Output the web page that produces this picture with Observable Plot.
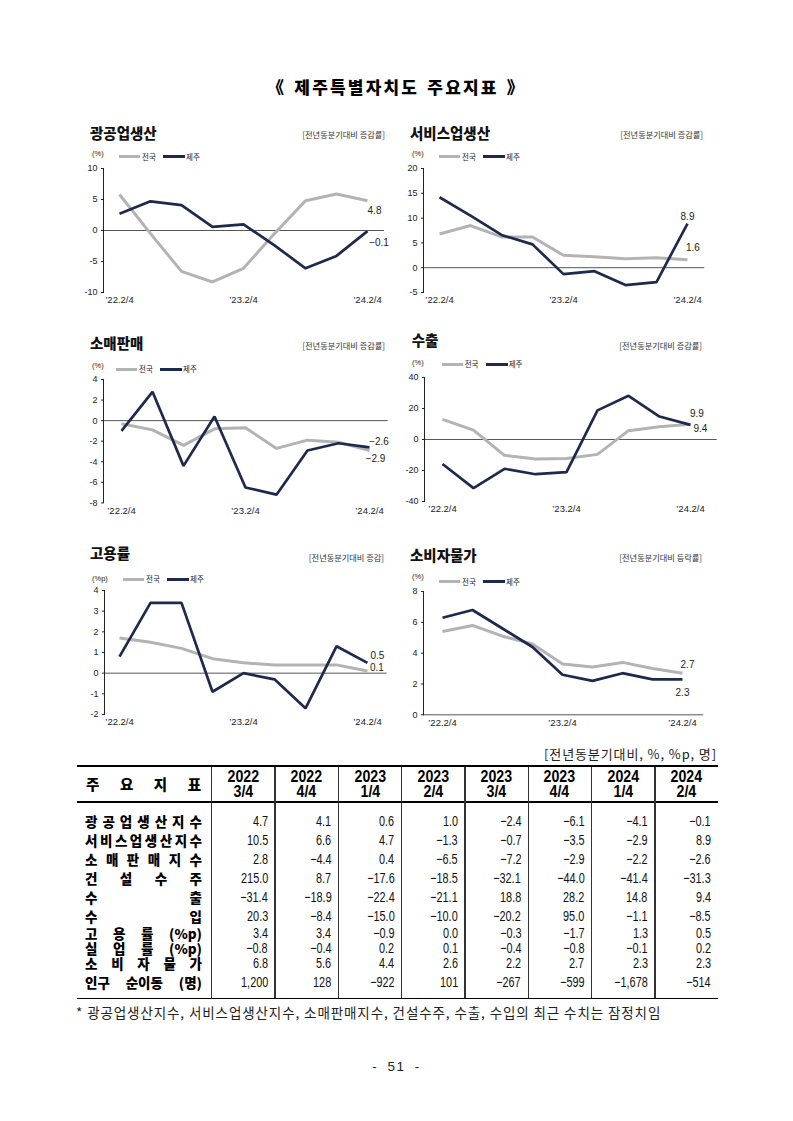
<!DOCTYPE html>
<html><head><meta charset="utf-8">
<script src="https://cdn.jsdelivr.net/npm/d3@7"></script>
<script src="https://cdn.jsdelivr.net/npm/@observablehq/plot@0.6"></script>
<style>
body{margin:0;background:#fff;}
#page{position:relative;width:793px;height:1121px;overflow:hidden;font-family:"Liberation Sans","Noto Sans CJK KR",sans-serif;color:#000;background:#fff;}
.abs{position:absolute;white-space:nowrap;line-height:1;}
.ctitle{font-family:"Noto Sans CJK KR";font-weight:900;font-size:14.5px;color:#111;}
.cnote{font-family:"Noto Sans CJK KR";font-size:8.2px;color:#333;}
.unit{font-size:7.5px;color:#222;}
.legtxt{font-family:"Noto Sans CJK KR";font-size:7.5px;color:#222;}
.sw{position:absolute;height:3px;}
.tbl-line{position:absolute;background:#000;}
.tight{display:block;height:12px;line-height:12px;overflow:visible;}
</style></head><body><div id="page"></div>
<script>
// ---------- chart data ----------
const quarters = ["’22.2/4","’22.3/4","’22.4/4","’23.1/4","’23.2/4","’23.3/4","’23.4/4","’24.1/4","’24.2/4"];
const xTickLabels = ["’22.2/4","’23.2/4","’24.2/4"];
const seriesNames = ["전국","제주"];
const seriesColors = ["#b3b3b3","#1d2a4d"];

const chartTitles = ["광공업생산","서비스업생산","소매판매","수출","고용률","소비자물가"];
const chartNotes = ["[전년동분기대비 증감률]","[전년동분기대비 증감률]","[전년동분기대비 증감률]","[전년동분기대비 증감률]","[전년동분기대비 증감]","[전년동분기대비 등락률]"];
const chartUnits = ["(%)","(%)","(%)","(%)","(%p)","(%)"];

const miningNational = [5.8, -0.5, -6.6, -8.3, -6.1, -0.5, 4.8, 5.9, 4.8];
const miningJeju     = [2.7, 4.7, 4.1, 0.6, 1.0, -2.4, -6.1, -4.1, -0.1];
const serviceNational = [6.8, 8.5, 6.2, 6.2, 2.5, 2.2, 1.8, 2.0, 1.6];
const serviceJeju     = [14.2, 10.5, 6.6, 4.7, -1.3, -0.7, -3.5, -2.9, 8.9];
const retailNational = [-0.3, -0.9, -2.4, -0.8, -0.7, -2.7, -1.9, -2.1, -2.9];
const retailJeju     = [-1.0, 2.8, -4.4, 0.4, -6.5, -7.2, -2.9, -2.2, -2.6];
const exportNational = [13.0, 6.0, -10.2, -12.6, -12.2, -9.6, 5.7, 8.2, 9.9];
const exportJeju     = [-15.8, -31.4, -18.9, -22.4, -21.1, 18.8, 28.2, 14.8, 9.4];
const employNational = [1.7, 1.5, 1.2, 0.7, 0.5, 0.4, 0.4, 0.4, 0.1];
const employJeju     = [0.8, 3.4, 3.4, -0.9, 0.0, -0.3, -1.7, 1.3, 0.5];
const cpiNational = [5.4, 5.8, 5.1, 4.6, 3.3, 3.1, 3.4, 3.0, 2.7];
const cpiJeju     = [6.3, 6.8, 5.6, 4.4, 2.6, 2.2, 2.7, 2.3, 2.3];

const yTicksMining = [-10, -5, 0, 5, 10];
const yTicksService = [-5, 0, 5, 10, 15, 20];
const yTicksRetail = [-8, -6, -4, -2, 0, 2, 4];
const yTicksExport = [-40, -20, 0, 20, 40];
const yTicksEmploy = [-2, -1, 0, 1, 2, 3, 4];
const yTicksCpi = [0, 2, 4, 6, 8];

// ---------- table data ----------
const pageTitle = "《 제주특별자치도 주요지표 》";
const tableUnitNote = "[전년동분기대비, %, %p, 명]";
const tableHeadLabel = "주 요 지 표";
const colYears = ["2022","2022","2023","2023","2023","2023","2024","2024"];
const colQuarters = ["3/4","4/4","1/4","2/4","3/4","4/4","1/4","2/4"];
const rowLabels = ["광공업생산지수","서비스업생산지수","소 매 판 매 지 수","건 설 수 주","수 출","수 입","고 용 률 (%p)","실 업 률 (%p)","소 비 자 물 가","인구 순이동 (명)"];
const rowMining   = [4.7, 4.1, 0.6, 1.0, -2.4, -6.1, -4.1, -0.1];
const rowService  = [10.5, 6.6, 4.7, -1.3, -0.7, -3.5, -2.9, 8.9];
const rowRetail   = [2.8, -4.4, 0.4, -6.5, -7.2, -2.9, -2.2, -2.6];
const rowConstr   = [215.0, 8.7, -17.6, -18.5, -32.1, -44.0, -41.4, -31.3];
const rowExport   = [-31.4, -18.9, -22.4, -21.1, 18.8, 28.2, 14.8, 9.4];
const rowImport   = [20.3, -8.4, -15.0, -10.0, -20.2, 95.0, -1.1, -8.5];
const rowEmploy   = [3.4, 3.4, -0.9, 0.0, -0.3, -1.7, 1.3, 0.5];
const rowUnemploy = [-0.8, -0.4, 0.2, 0.1, -0.4, -0.8, -0.1, 0.2];
const rowCpi      = [6.8, 5.6, 4.4, 2.6, 2.2, 2.7, 2.3, 2.3];
const rowMigration = [1200, 128, -922, 101, -267, -599, -1678, -514];
const footnote = "* 광공업생산지수, 서비스업생산지수, 소매판매지수, 건설수주, 수출, 수입의 최근 수치는 잠정치임";
const pageNumber = "- 51 -";

// ---------- layout ----------
const page = document.getElementById("page");
function addDiv(cls, text, css) {
  const el = document.createElement("div");
  el.className = "abs " + cls;
  if (text !== null) el.textContent = text;
  Object.assign(el.style, css);
  page.appendChild(el);
  return el;
}

const charts = [
  {i:0, nat:miningNational, jeju:miningJeju, domain:[-10,10], ticks:yTicksMining,
   x0:103, x1:384, p0:117.7, p8:368, yTop:168.3, yBot:292.3,
   titleX:90, titleY:132.5, noteR:385, noteY:134, unitX:92, unitY:154, legX:119, legY:156.7,
   natLab:{dx:7, dy:10}, jejuLab:{dx:11.5, dy:12}},
  {i:1, nat:serviceNational, jeju:serviceJeju, domain:[-5,20], ticks:yTicksService,
   x0:422.7, x1:704, p0:437.3, p8:688, yTop:168.3, yBot:292.3,
   titleX:410, titleY:133, noteR:703, noteY:133.5, unitX:412, unitY:154, legX:439, legY:156.7,
   natLab:{dx:5.5, dy:-12}, jejuLab:{dx:0, dy:-7}},
  {i:2, nat:retailNational, jeju:retailJeju, domain:[-8,4], ticks:yTicksRetail,
   x0:103.3, x1:388, p0:119, p8:372, yTop:379.3, yBot:502.7,
   titleX:90, titleY:343.3, noteR:385, noteY:345, unitX:92, unitY:366, legX:116, legY:369.3,
   natLab:{dx:6, dy:8}, jejuLab:{dx:9.5, dy:-5.5}},
  {i:3, nat:exportNational, jeju:exportJeju, domain:[-40,40], ticks:yTicksExport,
   x0:424, x1:716.7, p0:440, p8:691.7, yTop:376.7, yBot:500.7,
   titleX:411.7, titleY:340, noteR:702, noteY:345, unitX:412, unitY:363.3, legX:441.7, legY:364.3,
   natLab:{dx:6.5, dy:-10}, jejuLab:{dx:10, dy:4}},
  {i:4, nat:employNational, jeju:employJeju, domain:[-2,4], ticks:yTicksEmploy,
   x0:104, x1:386.7, p0:118.3, p8:368.3, yTop:590, yBot:714,
   titleX:90, titleY:553.3, noteR:384, noteY:556.7, unitX:92, unitY:579.3, legX:123, legY:579.3,
   natLab:{dx:9.5, dy:-3}, jejuLab:{dx:10, dy:-6.6}},
  {i:5, nat:cpiNational, jeju:cpiJeju, domain:[0,8], ticks:yTicksCpi,
   x0:422.7, x1:703, p0:438.3, p8:686, yTop:590.7, yBot:714,
   titleX:410, titleY:555, noteR:702, noteY:556.7, unitX:412, unitY:577.3, legX:439, legY:581.7,
   natLab:{dx:5, dy:-8}, jejuLab:{dx:0, dy:13}}
];

const fmtSigned = (v, digits) => (v < 0 ? "−" : "") + Math.abs(v).toFixed(digits);

function drawChart(c) {
  const ML = 30, MR = 30, MT = 10, MB = 20;
  const W = c.x1 - c.x0 + ML + MR;
  const H = c.yBot - c.yTop + MT + MB;
  const left = c.x0 - ML, top = c.yTop - MT;
  const natData = c.nat.map((v, k) => ({q: quarters[k], v}));
  const jejuData = c.jeju.map((v, k) => ({q: quarters[k], v}));
  const svg = Plot.plot({
    width: W, height: H, marginLeft: ML, marginRight: MR, marginTop: MT, marginBottom: MB,
    style: {overflow: "visible", background: "transparent", fontFamily: "Liberation Sans, Noto Sans CJK KR, sans-serif", color: "#222"},
    x: {type: "point", domain: quarters, range: [c.p0 - left, c.p8 - left], padding: 0, axis: null},
    y: {domain: c.domain, range: [H - MB, MT], axis: null},
    marks: [
      Plot.ruleY([0], {stroke: "#555", strokeWidth: 1}),
      Plot.frame({anchor: "left", stroke: "#222", strokeWidth: 1}),
      Plot.axisY({ticks: c.ticks, tickSize: 2, tickPadding: 4, fontSize: 9, tickFormat: d => String(d), stroke: "#222", label: null}),
      Plot.axisX({ticks: xTickLabels, tickSize: 0, tickPadding: 4, fontSize: 9.5, label: null}),
      Plot.lineY(natData, {x: "q", y: "v", stroke: seriesColors[0], strokeWidth: 3, strokeLinejoin: "miter", strokeLinecap: "butt"}),
      Plot.lineY(jejuData, {x: "q", y: "v", stroke: seriesColors[1], strokeWidth: 2.7, strokeLinejoin: "miter", strokeLinecap: "butt"}),
      Plot.text([natData[natData.length - 1]], {x: "q", y: "v", text: d => fmtSigned(d.v, 1), dx: c.natLab.dx, dy: c.natLab.dy, fontSize: 10, fill: "#222", lineAnchor: "middle"}),
      Plot.text([jejuData[jejuData.length - 1]], {x: "q", y: "v", text: d => fmtSigned(d.v, 1), dx: c.jejuLab.dx, dy: c.jejuLab.dy, fontSize: 10, fill: "#222", lineAnchor: "middle"})
    ]
  });
  const holder = addDiv("", null, {left: left + "px", top: top + "px", width: W + "px", height: H + "px"});
  holder.appendChild(svg);

  addDiv("ctitle", chartTitles[c.i], {left: c.titleX + "px", top: c.titleY + "px", transform: "translateY(-50%)"});
  addDiv("cnote", chartNotes[c.i], {right: (793 - c.noteR) + "px", top: c.noteY + "px", transform: "translateY(-50%)"});
  addDiv("unit", chartUnits[c.i], {left: c.unitX + "px", top: c.unitY + "px", transform: "translateY(-50%)"});
  addDiv("sw", null, {left: c.legX + "px", top: (c.legY - 1.5) + "px", width: "21px", background: seriesColors[0]});
  addDiv("legtxt", seriesNames[0], {left: (c.legX + 23) + "px", top: c.legY + "px", transform: "translateY(-50%)"});
  addDiv("sw", null, {left: (c.legX + 44) + "px", top: (c.legY - 1.5) + "px", width: "22px", background: seriesColors[1]});
  addDiv("legtxt", seriesNames[1], {left: (c.legX + 67) + "px", top: c.legY + "px", transform: "translateY(-50%)"});
}
charts.forEach(drawChart);

// ---------- page title ----------
addDiv("", pageTitle, {left: "0px", width: "793px", textAlign: "center", top: "86px", transform: "translateY(-50%)",
  fontFamily: "Noto Sans CJK KR", fontWeight: "900", fontSize: "17px", letterSpacing: "2.2px", wordSpacing: "2px"});

// ---------- table ----------
const T = {left: 77, top: 764.5, right: 718, headBottom: 801, bottom: 997.5, firstW: 134.7};
const colW = (T.right - T.left - T.firstW) / 8;
const colLeft = k => T.left + T.firstW + k * colW;
addDiv("", tableUnitNote, {right: (793 - 717) + "px", top: "753px", transform: "translateY(-50%)", fontFamily: "Noto Sans CJK KR", fontSize: "13px", letterSpacing: "0.9px", color: "#222"});
addDiv("tbl-line", null, {left: T.left + "px", top: T.top + "px", width: (T.right - T.left) + "px", height: "2px"});
addDiv("tbl-line", null, {left: T.left + "px", top: T.headBottom + "px", width: (T.right - T.left) + "px", height: "2px"});
addDiv("tbl-line", null, {left: T.left + "px", top: T.bottom + "px", width: (T.right - T.left) + "px", height: "1.5px"});
for (let k = 0; k < 8; k++) {
  addDiv("tbl-line", null, {left: (colLeft(k) - 0.5) + "px", top: (T.top + 2) + "px", width: "1.3px", height: (T.bottom - T.top - 2) + "px", background: "#333"});
}
function spreadLabel(text, x, w, yc, css) {
  const tokens = text.includes(" ") ? text.split(" ") : Array.from(text);
  const el = addDiv("", null, Object.assign({left: x + "px", width: w + "px", top: (yc - 6) + "px", height: "12px",
    display: "flex", justifyContent: "space-between", alignItems: "center", lineHeight: "12px"}, css));
  tokens.forEach(t => { const s = document.createElement("span"); s.className = "tight"; s.textContent = t; el.appendChild(s); });
}
const labelCss = {fontFamily: "Noto Sans CJK KR", fontWeight: "900", fontSize: "13.5px", color: "#000"};
spreadLabel(tableHeadLabel, T.left + 9, 115, 784, Object.assign({}, labelCss, {fontSize: "14.5px"}));
for (let k = 0; k < 8; k++) {
  const el = addDiv("", null, {left: colLeft(k) + "px", width: colW + "px", top: "784px", transform: "translateY(-50%)", textAlign: "center",
    fontFamily: "Liberation Sans", fontWeight: "bold", fontSize: "16.5px", lineHeight: "15px"});
  el.innerHTML = `<span style="display:inline-block;transform:scaleX(0.86)">${colYears[k]}<br>${colQuarters[k]}</span>`;
}
const tableRows = [rowMining, rowService, rowRetail, rowConstr, rowExport, rowImport, rowEmploy, rowUnemploy, rowCpi, rowMigration];
const bodyRowHeights = [19, 19, 19, 19, 19, 19, 15, 15, 15, 22];
let yRow = 811.5;
tableRows.forEach((vals, r) => {
  const h = bodyRowHeights[r];
  const yc = yRow + h / 2;
  spreadLabel(rowLabels[r], T.left + 8, 117, yc, labelCss);
  const isCount = r === tableRows.length - 1;
  vals.forEach((v, k) => {
    const txt = isCount ? (v < 0 ? "−" : "") + d3.format(",")(Math.abs(v)) : fmtSigned(v, 1);
    const el = addDiv("", null, {left: colLeft(k) + "px", width: (colW - 7) + "px", top: (yc - 6) + "px", height: "12px", lineHeight: "12px", textAlign: "right",
      fontFamily: "Liberation Sans", fontSize: "14.5px", color: "#111"});
    el.innerHTML = `<span style="display:inline-block;height:12px;line-height:12px;transform:scaleX(0.75);transform-origin:100% 50%">${txt}</span>`;
  });
  yRow += h;
});

// ---------- footnote & page number ----------
addDiv("", footnote, {left: "76px", top: "1013px", transform: "translateY(-50%)", fontFamily: "Noto Sans CJK KR", fontSize: "13.5px", letterSpacing: "0.9px", color: "#222"});
addDiv("", pageNumber, {left: "0px", width: "793px", textAlign: "center", top: "1067px", transform: "translateY(-50%)", fontFamily: "Liberation Sans", fontSize: "13.5px", letterSpacing: "1.5px", wordSpacing: "4px", color: "#222"});
</script></body></html>
